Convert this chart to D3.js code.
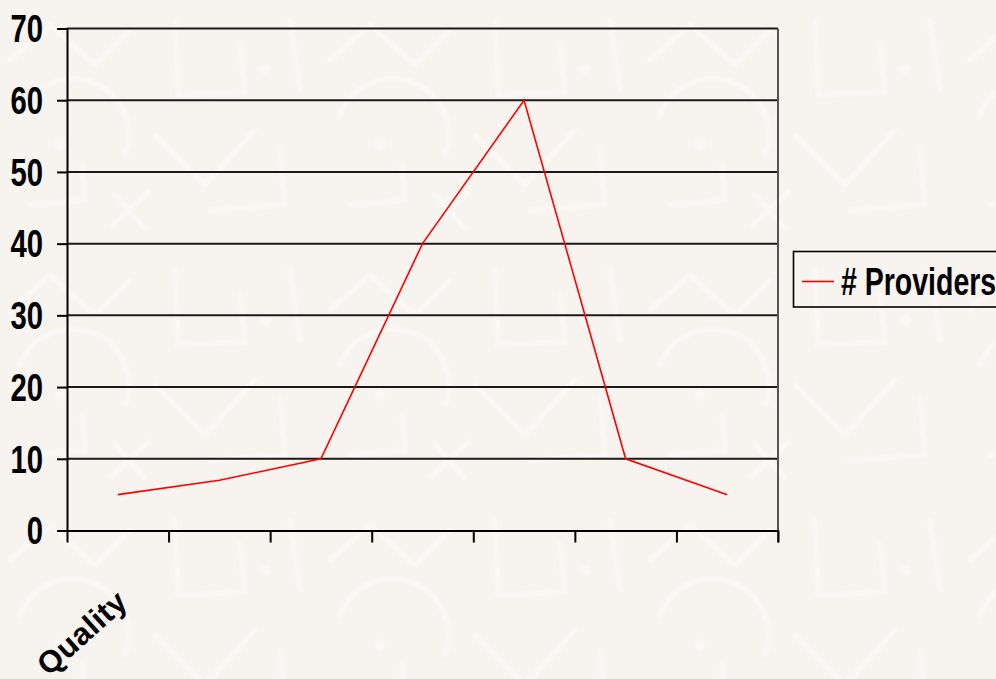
<!DOCTYPE html>
<html><head><meta charset="utf-8">
<script src="https://cdn.jsdelivr.net/npm/d3@7"></script>
<style>
html,body{margin:0;padding:0;background:#f7f3ef;overflow:hidden}
text{font-family:"Liberation Sans",Arial,sans-serif;font-weight:bold;fill:#000}
</style>
</head><body>
<svg id="chart" width="996" height="679"></svg>
<script>
// Distribution of providers by quality grade
const categories = ["Quality", "", "", "", "", "", ""];
const providers = [5, 7, 10, 40, 60, 10, 5];
const yTicks = [0, 10, 20, 30, 40, 50, 60, 70];
const seriesName = "# Providers";

const W = 996, H = 679;
const plot = {left: 67, right: 778, top: 28.5, bottom: 530.5};
const svg = d3.select("#chart");

// soft decorative backdrop
const defs = svg.append("defs");
defs.append("filter").attr("id", "soft")
  .append("feGaussianBlur").attr("stdDeviation", 1.8);
const pat = defs.append("pattern").attr("id", "motif")
  .attr("patternUnits", "userSpaceOnUse").attr("width", 320).attr("height", 250);
pat.append("rect").attr("width", 320).attr("height", 250).attr("fill", "#f7f3ef");
const pg = pat.append("g").attr("fill", "none").attr("stroke", "#ffffff")
  .attr("stroke-width", 5).attr("stroke-linecap", "round").attr("opacity", 0.45)
  .attr("filter", "url(#soft)");
pg.append("path").attr("d", "M10,60 L50,25 L95,65 L130,30");
pg.append("path").attr("d", "M175,20 L178,95 L245,92 L240,45");
pg.append("path").attr("d", "M20,115 A55,55 0 0 1 125,155");
pg.append("path").attr("d", "M155,135 L205,185 L255,130");
pg.append("path").attr("d", "M30,205 L85,200 L82,165");
pg.append("path").attr("d", "M210,210 L285,205 L280,150");
pg.append("path").attr("d", "M115,195 L145,228");
pg.append("path").attr("d", "M148,192 L112,226");
pg.append("path").attr("d", "M290,20 L300,90");
pg.append("circle").attr("cx", 265).attr("cy", 70).attr("r", 3);
pg.append("circle").attr("cx", 60).attr("cy", 145).attr("r", 3);
svg.append("rect").attr("width", W).attr("height", H).attr("fill", "url(#motif)");

// scales
const x = d3.scaleBand().domain(d3.range(categories.length))
  .range([plot.left, plot.right]).paddingInner(0).paddingOuter(0);
const xEdge = d3.scaleLinear().domain([0, categories.length])
  .range([plot.left, plot.right]);
const y = d3.scaleLinear().domain([0, 70]).range([plot.bottom, plot.top]);

// horizontal gridlines
svg.append("g").selectAll("line").data(yTicks.filter(v => v > 0)).join("line")
  .attr("x1", plot.left).attr("x2", plot.right)
  .attr("y1", d => y(d)).attr("y2", d => y(d))
  .attr("stroke", "#1a1a1a").attr("stroke-width", 2);

// right border of the plot area
svg.append("line").attr("x1", plot.right).attr("x2", plot.right)
  .attr("y1", plot.top).attr("y2", plot.bottom + 12)
  .attr("stroke", "#555").attr("stroke-width", 2);

// y axis
const yAxis = svg.append("g").attr("transform", `translate(${plot.left},0)`)
  .call(d3.axisLeft(y).tickValues(yTicks).tickSize(10).tickSizeOuter(0).tickFormat(""));
yAxis.selectAll("path,line").attr("stroke", "#000").attr("stroke-width", 2);

svg.append("g").selectAll("text").data(yTicks).join("text")
  .attr("text-anchor", "end")
  .attr("font-size", 38)
  .attr("transform", d => `translate(43,${y(d) + 13.8}) scale(0.77,1)`)
  .text(d => d);

// x axis: ticks between categories
const xAxis = svg.append("g").attr("transform", `translate(0,${plot.bottom})`)
  .call(d3.axisBottom(xEdge).tickValues(d3.range(categories.length + 1))
    .tickSize(12).tickSizeOuter(0).tickFormat(""));
xAxis.selectAll("path,line").attr("stroke", "#000").attr("stroke-width", 2);

// rotated category labels, rising towards each category centre
svg.append("g").selectAll("text").data(categories).join("text")
  .attr("text-anchor", "start")
  .attr("font-size", 31)
  .attr("letter-spacing", 0.5)
  .attr("transform", (d, i) => `translate(${x(i) + x.bandwidth() / 2 - 69},677) rotate(-42)`)
  .text(d => d);

// data line
const line = d3.line()
  .x((d, i) => x(i) + x.bandwidth() / 2)
  .y(d => y(d));
svg.append("path").datum(providers)
  .attr("d", line).attr("fill", "none")
  .attr("stroke", "#ff0000").attr("stroke-width", 1.6);

// legend
const lg = svg.append("g");
lg.append("rect").attr("x", 793.5).attr("y", 251.5).attr("width", 230).attr("height", 55.5)
  .attr("fill", "none").attr("stroke", "#000").attr("stroke-width", 1.6);
lg.append("line").attr("x1", 802).attr("x2", 834).attr("y1", 281.5).attr("y2", 281.5)
  .attr("stroke", "#ff0000").attr("stroke-width", 1.6);
lg.append("text").attr("font-size", 38)
  .attr("transform", "translate(841,294.5) scale(0.75,1)")
  .text(seriesName);
</script>
</body></html>
